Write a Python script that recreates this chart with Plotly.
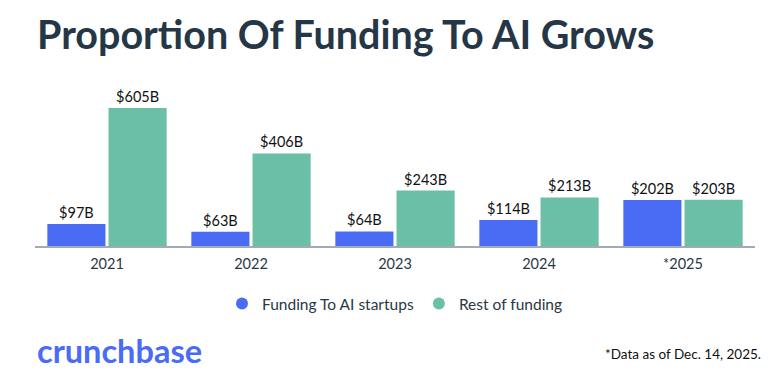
import plotly.graph_objects as go

years = ["2021", "2022", "2023", "2024", "*2025"]
ai_funding = [97, 63, 64, 114, 202]
rest_funding = [605, 406, 243, 213, 203]
series_names = ["Funding To AI startups", "Rest of funding"]

BLUE = "#4a6cf5"
GREEN = "#6bbfa6"
DARK = "#1f2d3a"

fig = go.Figure()
for name, vals, col in [(series_names[0], ai_funding, BLUE), (series_names[1], rest_funding, GREEN)]:
    fig.add_trace(go.Bar(
        x=years, y=vals, name=name, marker=dict(color=col, line=dict(width=0)),
        texttemplate="$%{y}B", textposition="outside", cliponaxis=False,
        textfont=dict(family="Lato", size=14.5, color="#111111"),
        showlegend=False,
    ))
    fig.add_trace(go.Scatter(
        x=[None], y=[None], mode="markers", name=name,
        marker=dict(symbol="circle", size=14, color=col),
    ))

# page body has an 8px margin, so the figure is sized to fit the remaining window
fig.update_layout(
    width=768, height=369,
    margin=dict(l=27, r=21, t=82, b=131, autoexpand=False),
    paper_bgcolor="white", plot_bgcolor="white",
    barmode="group", bargap=0.15, bargroupgap=0.05,
    font=dict(family="Lato", color=DARK),
    xaxis=dict(showline=True, linecolor="#a3aab3", linewidth=2, ticks="",
               ticklabelstandoff=4,
               tickfont=dict(size=14.5, color="#2a3744"), showgrid=False),
    yaxis=dict(range=[0, 684], visible=False, showgrid=False),
    legend=dict(orientation="h", x=0.5, xanchor="center", y=-0.372, yanchor="middle",
                font=dict(size=15.5, color="#2a3744"), itemsizing="constant"),
    annotations=[
        dict(text="<b>Proportion Of Funding To AI Grows</b>", xref="paper", yref="paper",
             x=0.0, y=1.365, xanchor="left", yanchor="middle", showarrow=False,
             font=dict(family="Lato", size=39.5, color="#253746")),
        dict(text="<b>crunchbase</b>", xref="paper", yref="paper",
             x=0.0, y=-0.667, xanchor="left", yanchor="middle", showarrow=False,
             font=dict(family="Lato", size=32.5, color=BLUE)),
        dict(text="*Data as of Dec. 14, 2025.", xref="paper", yref="paper",
             x=1.011, y=-0.692, xanchor="right", yanchor="middle", showarrow=False,
             font=dict(family="Lato", size=13.5, color="#111111")),
    ],
)

fig.write_html("out.html")
